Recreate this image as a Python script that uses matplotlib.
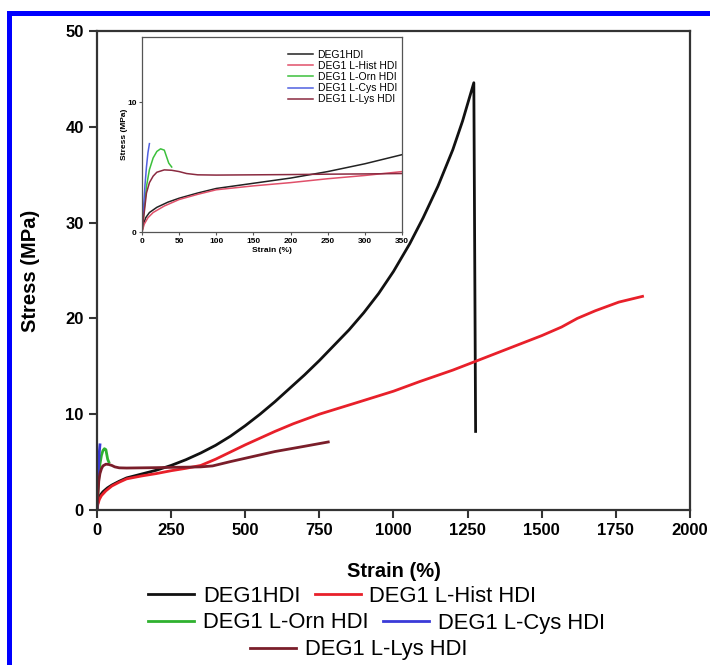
import matplotlib.pyplot as plt
from matplotlib.patches import Rectangle

plt.rcParams['font.family'] = ['Liberation Sans', 'DejaVu Sans']

# strain (%) / stress (MPa) read per sample
hdi_strain = [0, 2, 5, 10, 20, 35, 50, 75, 100, 150, 200, 250, 300, 350, 400, 450, 500,
              550, 600, 650, 700, 750, 800, 850, 900, 950, 1000, 1055, 1100, 1150, 1200,
              1233, 1271, 1277]
hdi_stress = [0, 0.6, 1.1, 1.5, 1.9, 2.3, 2.6, 3.0, 3.35, 3.75, 4.15, 4.65, 5.25, 5.95,
              6.75, 7.7, 8.8, 10.0, 11.3, 12.7, 14.1, 15.6, 17.2, 18.8, 20.6, 22.6, 24.9,
              27.8, 30.5, 33.8, 37.6, 40.6, 44.6, 8.2]

hist_strain = [0, 3, 8, 15, 30, 50, 75, 100, 150, 200, 250, 300, 350, 400, 450, 500, 600,
               662, 750, 886, 1000, 1088, 1200, 1267, 1400, 1500, 1567, 1620, 1681, 1760,
               1840]
hist_stress = [0, 0.6, 1.1, 1.5, 2.0, 2.5, 2.9, 3.25, 3.55, 3.8, 4.1, 4.35, 4.65, 5.3,
               6.05, 6.8, 8.2, 9.0, 10.0, 11.3, 12.4, 13.4, 14.6, 15.4, 17.0, 18.2, 19.1,
               20.0, 20.8, 21.7, 22.3]

orn_strain = [0, 3, 6, 10, 15, 20, 25, 30, 33, 36, 40]
orn_stress = [0, 1.8, 3.5, 4.8, 5.7, 6.2, 6.4, 6.3, 5.8, 5.3, 5.0]

cys_strain = [0, 2, 4, 6, 8, 10]
cys_stress = [0, 1.8, 3.6, 5.0, 6.1, 6.8]

lys_strain = [0, 3, 6, 10, 15, 20, 30, 40, 50, 60, 75, 100, 150, 200, 250, 300, 350,
              390, 450, 500, 600, 700, 780]
lys_stress = [0, 1.5, 3.0, 3.8, 4.3, 4.6, 4.78, 4.75, 4.65, 4.5, 4.4, 4.38, 4.4, 4.42,
              4.45, 4.47, 4.5, 4.6, 5.05, 5.4, 6.1, 6.65, 7.1]

labels = ['DEG1HDI', 'DEG1 L-Hist HDI', 'DEG1 L-Orn HDI', 'DEG1 L-Cys HDI', 'DEG1 L-Lys HDI']
colors = ['#111111', '#e8202a', '#2fb12f', '#3a3ad8', '#7a1e2a']
inset_colors = ['#222222', '#e0506a', '#3cc03c', '#5060e0', '#8a2a40']

series = [(hdi_strain, hdi_stress), (hist_strain, hist_stress), (orn_strain, orn_stress),
          (cys_strain, cys_stress), (lys_strain, lys_stress)]

fig = plt.figure(figsize=(7.1, 6.65), dpi=100)

# blue frame along top and left edges
fig.add_artist(Rectangle((7 / 710, 1 - 16 / 665), 1, 5 / 665, transform=fig.transFigure,
                         color='#0000ff', lw=0))
fig.add_artist(Rectangle((7 / 710, 0), 5 / 710, 1 - 11 / 665, transform=fig.transFigure,
                         color='#0000ff', lw=0))

ax = fig.add_axes([0.1366, 0.2331, 0.8352, 0.7203])
lines = []
for (x, y), c, lab in zip(series, colors, labels):
    ln, = ax.plot(x, y, color=c, lw=2, label=lab)
    lines.append(ln)

ax.set_xlim(0, 2000)
ax.set_ylim(0, 50)
ax.set_xticks(range(0, 2001, 250))
ax.set_yticks(range(0, 51, 10))
ax.tick_params(direction='out', length=6, width=1.5, labelsize=12, color='#333333')
for t in ax.get_xticklabels() + ax.get_yticklabels():
    t.set_fontweight('bold')
for s in ax.spines.values():
    s.set_linewidth(1.6)
    s.set_color('#333333')
ax.set_xlabel('Strain (%)', fontsize=14.5, fontweight='bold', labelpad=17)
ax.set_ylabel('Stress (MPa)', fontsize=14.5, fontweight='bold', labelpad=18)

# zoomed view of the low-strain region
ins = fig.add_axes([0.2, 0.6511, 0.3662, 0.2932])
for (x, y), c, lab in zip(series, inset_colors, labels):
    ins.plot(x, y, color=c, lw=1.1, label=lab)
ins.set_xlim(0, 350)
ins.set_ylim(0, 15)
ins.set_xticks(range(0, 351, 50))
ins.set_yticks([0, 10])
ins.tick_params(direction='out', length=2.5, width=0.8, labelsize=6, pad=1.5, color='#555555')
for t in ins.get_xticklabels() + ins.get_yticklabels():
    t.set_fontweight('bold')
for s in ins.spines.values():
    s.set_linewidth(0.9)
    s.set_color('#555555')
ins.set_xlabel('Strain (%)', fontsize=6, fontweight='bold', labelpad=2)
ins.set_ylabel('Stress (MPa)', fontsize=6, fontweight='bold', labelpad=-1)
ins.legend(loc='upper right', frameon=False, fontsize=7.5, handlelength=2.4,
           handletextpad=0.4, labelspacing=0.1, borderaxespad=0.3, borderpad=0.2,
           bbox_to_anchor=(1.0, 0.96))

# legend rows below the plot
leg_kw = dict(frameon=False, fontsize=15.8, handlelength=2.1, handletextpad=0.4,
              columnspacing=0.65, borderpad=0, borderaxespad=0)
row1 = fig.legend([lines[0], lines[1]], labels[0:2], ncol=2, loc='center left',
                  bbox_to_anchor=(148 / 710, 1 - 596 / 665), **leg_kw)
row2 = fig.legend([lines[2], lines[3]], labels[2:4], ncol=2, loc='center left',
                  bbox_to_anchor=(148 / 710, 1 - 623 / 665), **leg_kw)
row3 = fig.legend([lines[4]], labels[4:5], ncol=1, loc='center',
                  bbox_to_anchor=(359 / 710, 1 - 650 / 665), **leg_kw)

fig.savefig('out.png', dpi=100)
